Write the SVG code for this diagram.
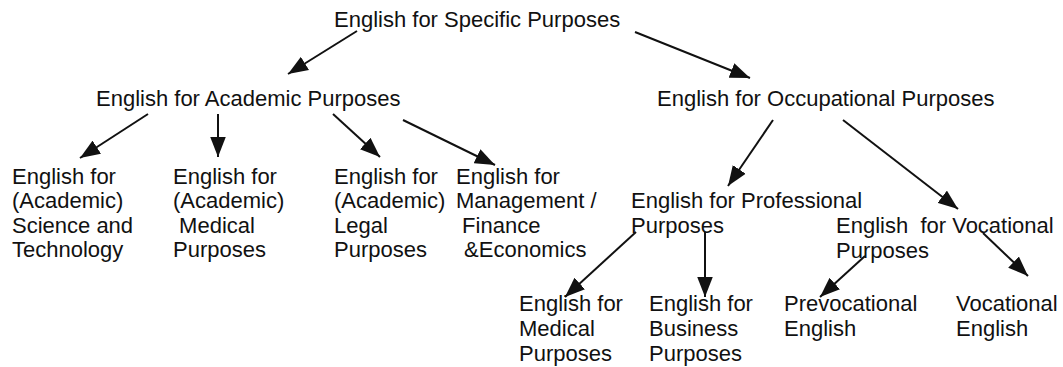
<svg xmlns="http://www.w3.org/2000/svg" width="1063" height="367" viewBox="0 0 1063 367">
<style>
text{font-family:"Liberation Sans",Arial,sans-serif;font-size:22px;fill:#111;white-space:pre}
.c line{stroke:#111;stroke-width:2;marker-end:url(#ah)}
</style>
<defs>
<marker id="ah" markerUnits="userSpaceOnUse" markerWidth="20" markerHeight="16" refX="18" refY="7" orient="auto" viewBox="0 0 18 14">
<path d="M0,0 L18,7 L0,14 z" fill="#111"/>
</marker>
</defs>
<rect width="1063" height="367" fill="#fff"/>
<g id="n-esp"><text x="334" y="27">English for Specific Purposes</text></g>
<g id="n-eap"><text x="96" y="106">English for Academic Purposes</text></g>
<g id="n-eop"><text x="657" y="106">English for Occupational Purposes</text></g>
<g id="n-st"><text x="12" y="184">English for</text><text x="12" y="208">(Academic)</text><text x="12" y="233">Science and</text><text x="12" y="257">Technology</text></g>
<g id="n-med"><text x="173" y="184">English for</text><text x="173" y="208">(Academic)</text><text x="173" y="233"> Medical</text><text x="173" y="257">Purposes</text></g>
<g id="n-legal"><text x="334" y="184">English for</text><text x="334" y="208">(Academic)</text><text x="334" y="233">Legal</text><text x="334" y="257">Purposes</text></g>
<g id="n-mgmt"><text x="456" y="184">English for</text><text x="456" y="208">Management /</text><text x="456" y="233"> Finance</text><text x="458" y="257"> &amp;Economics</text></g>
<g id="n-epp"><text x="631" y="208">English for Professional</text><text x="631" y="233">Purposes</text></g>
<g id="n-evp"><text x="836" y="233">English  for Vocational</text><text x="836" y="258">Purposes</text></g>
<g id="n-emp"><text x="519" y="311">English for</text><text x="519" y="336">Medical</text><text x="519" y="361">Purposes</text></g>
<g id="n-ebp"><text x="649" y="311">English for</text><text x="649" y="336">Business</text><text x="649" y="361">Purposes</text></g>
<g id="n-prev"><text x="784" y="311">Prevocational</text><text x="784" y="336">English</text></g>
<g id="n-voc"><text x="956" y="311">Vocational</text><text x="956" y="336">English</text></g>
<g id="connectors" class="c">
<line x1="357" y1="31" x2="288" y2="74"/>
<line x1="635" y1="32" x2="750" y2="78"/>
<line x1="148" y1="114" x2="80" y2="158"/>
<line x1="218" y1="114" x2="218" y2="157"/>
<line x1="333" y1="114" x2="380" y2="157"/>
<line x1="403" y1="120" x2="495" y2="165"/>
<line x1="773" y1="120" x2="728" y2="186"/>
<line x1="843" y1="120" x2="958" y2="209"/>
<line x1="636" y1="232" x2="565" y2="297"/>
<line x1="705" y1="232" x2="705" y2="297"/>
<line x1="865" y1="256" x2="820" y2="297"/>
<line x1="983" y1="233" x2="1028" y2="276"/>
</g>
</svg>
